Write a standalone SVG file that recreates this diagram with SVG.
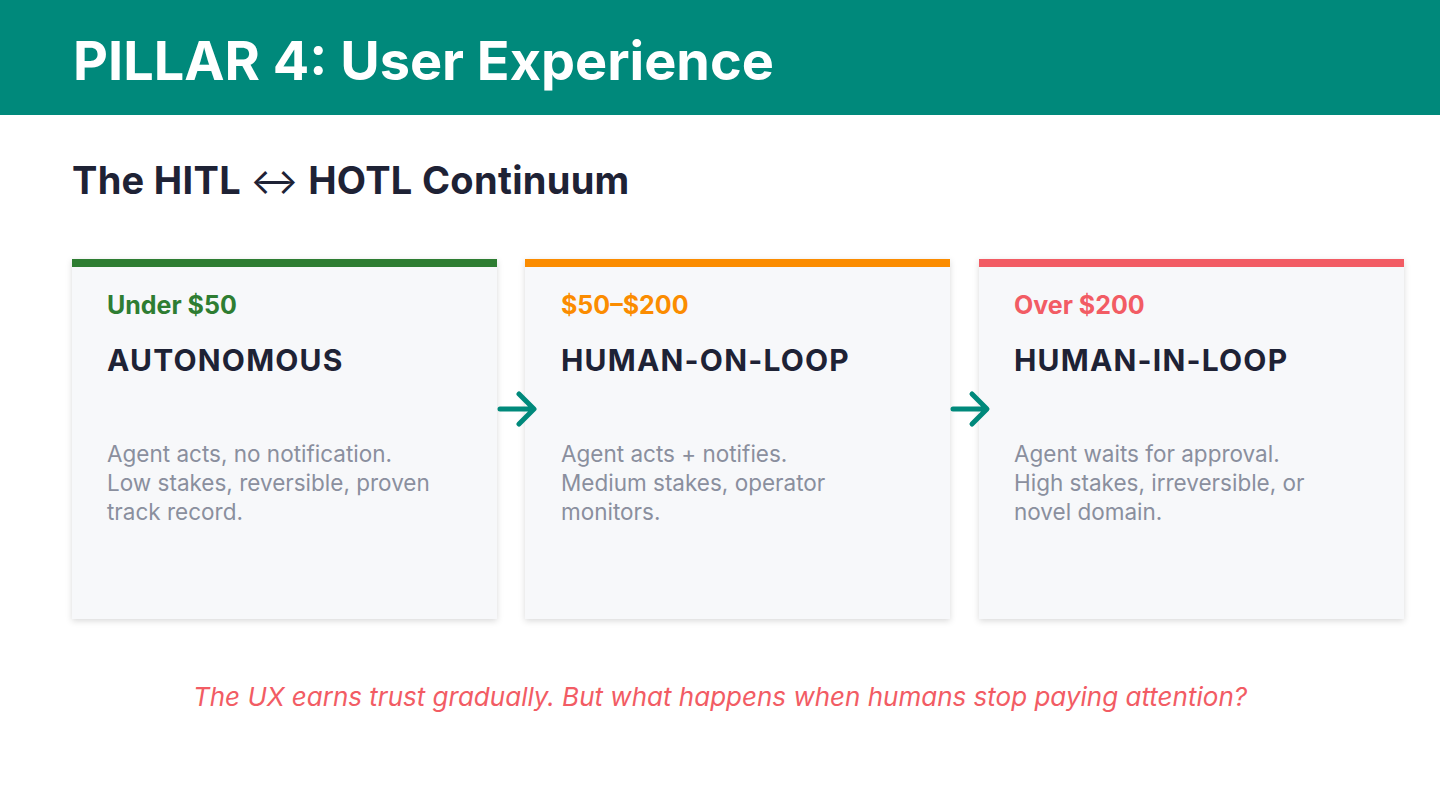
<svg xmlns="http://www.w3.org/2000/svg" width="1440" height="810" viewBox="0 0 1440 810">
<defs>
<filter id="sh" x="-10%" y="-10%" width="120%" height="120%">
<feDropShadow dx="0" dy="2" stdDeviation="3" flood-color="#000" flood-opacity="0.15"/>
</filter>
<style>
text{font-family:Inter,"Open Sans","Liberation Sans",sans-serif}
.card{fill:#f7f8fa;filter:url(#sh)}
.lbl{font-size:25px;font-weight:700}
.head{font-size:30px;font-weight:700;fill:#1e2235;letter-spacing:1.2px}
.body{font-size:22.5px;fill:#8a8f9e}
.arr{fill:none;stroke:#00897b;stroke-width:5;stroke-linecap:round;stroke-linejoin:round}
</style>
</defs>
<rect width="1440" height="810" fill="#ffffff"/>
<rect x="0" y="0" width="1440" height="115" fill="#00897b"/>
<text x="73" y="80" font-size="54" font-weight="700" fill="#ffffff">PILLAR 4: User Experience</text>
<text x="72" y="194" font-size="38" font-weight="700" fill="#1e2235" letter-spacing="0.3">The HITL <tspan font-weight="400" font-size="36">↔</tspan> HOTL Continuum</text>

<g id="node-autonomous">
<rect class="card" x="72" y="259" width="425" height="360"/>
<rect x="72" y="259" width="425" height="8" fill="#2e7d32"/>
<text class="lbl" x="107" y="314" fill="#2e7d32">Under $50</text>
<text class="head" x="107" y="371">AUTONOMOUS</text>
<text class="body" x="107" y="462">Agent acts, no notification.</text>
<text class="body" x="107" y="491">Low stakes, reversible, proven</text>
<text class="body" x="107" y="520">track record.</text>
</g>
<g id="node-human-on-loop">
<rect class="card" x="525" y="259" width="425" height="360"/>
<rect x="525" y="259" width="425" height="8" fill="#fb8c00"/>
<text class="lbl" x="561" y="314" fill="#fb8c00">$50–$200</text>
<text class="head" x="561" y="371">HUMAN-ON-LOOP</text>
<text class="body" x="561" y="462">Agent acts + notifies.</text>
<text class="body" x="561" y="491">Medium stakes, operator</text>
<text class="body" x="561" y="520">monitors.</text>
</g>
<g id="node-human-in-loop">
<rect class="card" x="979" y="259" width="425" height="360"/>
<rect x="979" y="259" width="425" height="8" fill="#f25c64"/>
<text class="lbl" x="1014" y="314" fill="#f25c64">Over $200</text>
<text class="head" x="1014" y="371">HUMAN-IN-LOOP</text>
<text class="body" x="1014" y="462">Agent waits for approval.</text>
<text class="body" x="1014" y="491">High stakes, irreversible, or</text>
<text class="body" x="1014" y="520">novel domain.</text>
</g>
<g id="connectors">
<path class="arr" d="M500 409 H533 M519 394 L534 409 L519 424"/>
<path class="arr" d="M953 409 H986 M972 394 L987 409 L972 424"/>
</g>
<text x="720" y="706" text-anchor="middle" font-size="26" font-style="italic" fill="#f25c64">The UX earns trust gradually. But what happens when humans stop paying attention?</text>
</svg>
